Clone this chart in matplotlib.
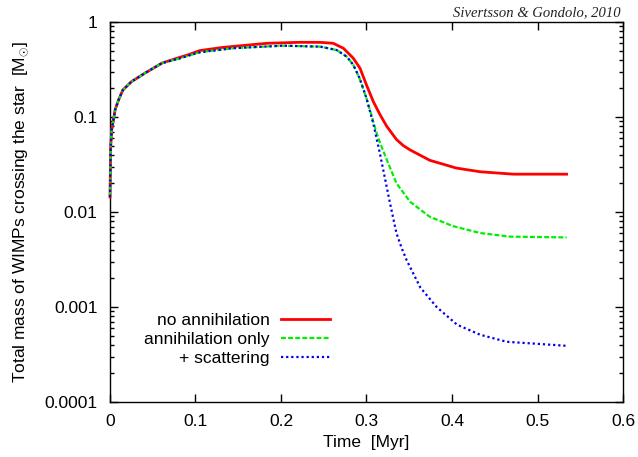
import matplotlib
matplotlib.use("Agg")
import matplotlib.pyplot as plt
from matplotlib.ticker import LogLocator, FixedLocator, FixedFormatter, NullFormatter

plt.rcParams['font.family'] = ['Liberation Sans', 'DejaVu Sans']
plt.rcParams['mathtext.fontset'] = 'custom'
plt.rcParams['mathtext.rm'] = 'Liberation Sans'

# Series: no annihilation
t_red = [0, 0.0008, 0.002, 0.004, 0.006, 0.010, 0.015, 0.025, 0.041, 0.061, 0.080,
         0.091, 0.105, 0.132, 0.184, 0.222, 0.246, 0.261, 0.273, 0.2846, 0.2924,
         0.300, 0.308, 0.316, 0.3236, 0.335, 0.343, 0.351, 0.374, 0.405, 0.433, 0.472, 0.534]
m_red = [0.0144, 0.048, 0.073, 0.093, 0.119, 0.151, 0.192, 0.235, 0.29, 0.37, 0.42,
         0.45, 0.50, 0.54, 0.597, 0.611, 0.61, 0.597, 0.529, 0.415, 0.326,
         0.217, 0.145, 0.105, 0.080, 0.058, 0.050, 0.045, 0.035, 0.029, 0.0265, 0.025, 0.025]

# Series: annihilation only
t_ann = [0, 0.0008, 0.002, 0.004, 0.006, 0.010, 0.015, 0.025, 0.041, 0.061, 0.080,
         0.091, 0.105, 0.144, 0.202, 0.246, 0.265, 0.277, 0.2846, 0.292, 0.300, 0.308,
         0.312, 0.316, 0.324, 0.335, 0.351, 0.374, 0.401, 0.433, 0.468, 0.534]
m_ann = [0.0144, 0.048, 0.073, 0.093, 0.119, 0.151, 0.192, 0.235, 0.29, 0.37, 0.41,
         0.44, 0.48, 0.53, 0.563, 0.55, 0.507, 0.431, 0.353, 0.255, 0.157, 0.089,
         0.067, 0.053, 0.035, 0.0201, 0.0128, 0.0089, 0.0071, 0.0060, 0.0055, 0.0054]

# Series: + scattering
t_sca = [0, 0.0008, 0.002, 0.004, 0.006, 0.010, 0.015, 0.025, 0.041, 0.061, 0.080,
         0.091, 0.105, 0.144, 0.202, 0.246, 0.265, 0.277, 0.2846, 0.292, 0.300, 0.308,
         0.316, 0.327, 0.335, 0.341, 0.347, 0.363, 0.382, 0.406, 0.433, 0.464, 0.499, 0.534]
m_sca = [0.0144, 0.048, 0.073, 0.093, 0.119, 0.151, 0.192, 0.235, 0.29, 0.37, 0.41,
         0.44, 0.48, 0.53, 0.563, 0.55, 0.507, 0.431, 0.353, 0.255, 0.157, 0.085,
         0.040, 0.0130, 0.0060, 0.0042, 0.0031, 0.0016, 0.00100, 0.00065, 0.00051,
         0.00043, 0.00041, 0.00039]

labels = ["no annihilation", "annihilation only", "+ scattering"]
xticks = [0, 0.1, 0.2, 0.3, 0.4, 0.5, 0.6]
xticklabels = ["0", "0.1", "0.2", "0.3", "0.4", "0.5", "0.6"]
yticks = [1e-4, 1e-3, 1e-2, 1e-1, 1]
yticklabels = ["0.0001", "0.001", "0.01", "0.1", "1"]

fig = plt.figure(figsize=(6.38, 4.57), dpi=100)
ax = fig.add_axes([0.1724, 0.1204, 0.8041, 0.8315])

ax.plot(t_red, m_red, color='#ff0000', lw=2.0, label=labels[0], zorder=3, clip_on=False)
ax.plot(t_ann, m_ann, color='#00ee00', lw=1.6, linestyle=(0, (2.2, 1.0)), label=labels[1],
        zorder=3, clip_on=False)
ax.plot(t_sca, m_sca, color='#0000ee', lw=1.6, linestyle=(0, (1.0, 1.3)), label=labels[2],
        zorder=3, clip_on=False)

ax.set_yscale('log')
ax.set_xlim(0, 0.6)
ax.set_ylim(1e-4, 1)
ax.xaxis.set_major_locator(FixedLocator(xticks))
ax.xaxis.set_major_formatter(FixedFormatter(xticklabels))
ax.yaxis.set_major_locator(FixedLocator(yticks))
ax.yaxis.set_major_formatter(FixedFormatter(yticklabels))
ax.yaxis.set_minor_locator(LogLocator(base=10, subs=range(2, 10), numticks=20))
ax.yaxis.set_minor_formatter(NullFormatter())

ax.tick_params(which='both', direction='in', top=True, right=True, labelsize=12.5, width=1.0)
ax.tick_params(which='major', length=6, pad=9)
ax.tick_params(which='minor', length=3)
for s in ax.spines.values():
    s.set_linewidth(1.0)

ax.set_xlabel("Time  [Myr]", fontsize=12.5, labelpad=4)
ax.set_ylabel(r"Total mass of WIMPs crossing the star  [M$_{\odot}$]", fontsize=12.5, labelpad=10)

leg = ax.legend(loc='center right', bbox_to_anchor=(0.4288, 0.164), frameon=False,
                fontsize=12.5, markerfirst=False, handlelength=2.83,
                handletextpad=0.63, labelspacing=0.23, borderaxespad=0, borderpad=0)
for t in leg.get_texts():
    t.set_ha('right')
leg._legend_box.align = "right"

fig.text(0.972, 0.972, "Sivertsson & Gondolo, 2010", ha='right', va='center',
         family='Liberation Serif', style='italic', fontsize=10.5, color='#222222')

fig.savefig("out.png", dpi=100)
